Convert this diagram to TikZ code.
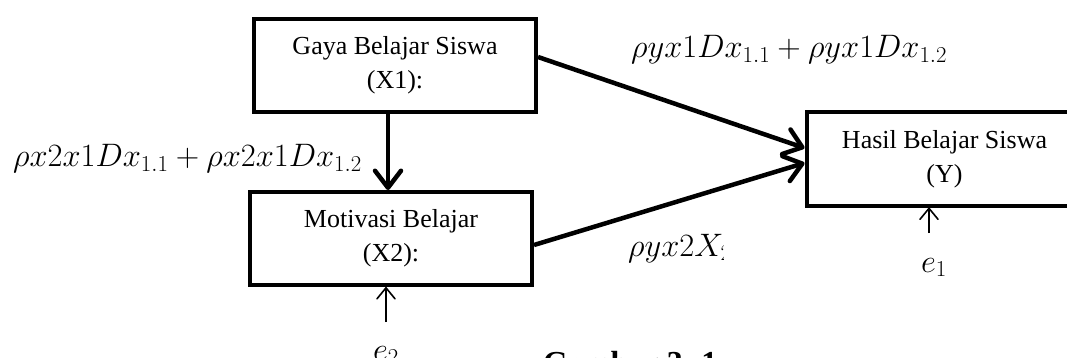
\RequirePackage{fix-cm}
\documentclass[tikz,border=0pt]{standalone}
\usepackage{fontspec}
\setmainfont{Liberation Serif}
\usetikzlibrary{arrows.meta}
\begin{document}
\begin{tikzpicture}[x=1pt,y=-1pt,
  box/.style={draw, line width=4pt, align=center, inner sep=0pt, font=\fontsize{26}{34}\selectfont},
  bigarrow/.style={line width=4.5pt, -{Straight Barb[length=17pt,width=26pt,line cap=round,line join=round]}},
  smallarrow/.style={line width=1.6pt, -{Straight Barb[length=11pt,width=18pt,line cap=round,line join=round]}},
  mlabel/.style={inner sep=0pt, font=\fontsize{32.5}{38}\selectfont},
]
\clip (0,0) rectangle (1067,358);
\useasboundingbox (0,0) rectangle (1067,358);

\node[box, minimum width=282pt, minimum height=93pt] (X1) at (395,65.5) {Gaya Belajar Siswa\\(X1):};
\node[box, minimum width=282pt, minimum height=93pt] (X2) at (391,238.5) {Motivasi Belajar\\(X2):};
\node[box, minimum width=276pt, minimum height=93.5pt] (Y) at (944.5,158.75) {Hasil Belajar Siswa\\(Y)};

\draw[bigarrow] ([xshift=-7pt]X1.south) -- ([xshift=-3pt]X2.north);
\draw[bigarrow] ([yshift=8.5pt]X1.east) -- ([yshift=10.75pt]Y.west);
\draw[bigarrow] ([yshift=-6.5pt]X2.east) -- ([yshift=-4.25pt]Y.west);

\coordinate (e1s) at (929,233);
\coordinate (e2s) at (386,322);
\draw[smallarrow] (e1s) -- (e1s |- Y.south);
\draw[smallarrow] (e2s) -- (e2s |- X2.south);

\node[mlabel, anchor=base west] (L1) at (631,58) {$\rho yx1Dx_{1.1}+\rho yx1Dx_{1.2}$};
\node[mlabel, anchor=base west] (L2) at (13,167) {$\rho x2x1Dx_{1.1}+\rho x2x1Dx_{1.2}$};
\begin{scope}
  \clip (600,200) rectangle (723,300);
  \node[mlabel, anchor=base west] (L3) at (628,256) {$\rho yx2X_2$};
\end{scope}
\node[mlabel, anchor=base west] (E1) at (921,272) {$e_1$};
\node[mlabel, anchor=base west] (E2) at (373,360) {$e_2$};
\node[anchor=base west, inner sep=0pt, font=\fontsize{32}{38}\selectfont\bfseries] (cap) at (543,373) {Gambar 3. 1};
\end{tikzpicture}
\end{document}
